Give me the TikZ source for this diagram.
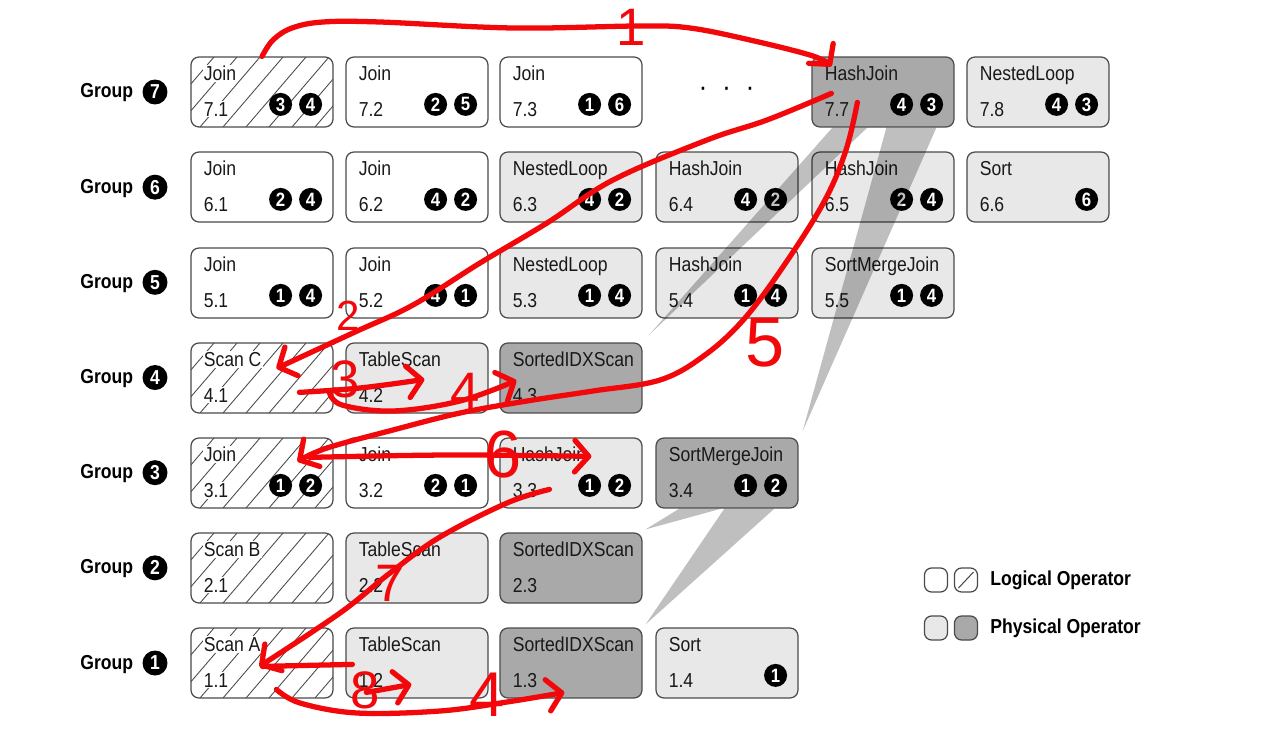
\documentclass[tikz,border=0pt]{standalone}
\usepackage{fontspec}
\setmainfont{Liberation Sans}[FakeStretch=0.87]
\newfontfamily\handfont{Liberation Sans}
\usetikzlibrary{arrows.meta}

\definecolor{opLight}{HTML}{E8E8E8}
\definecolor{opDark}{HTML}{A9A9A9}
\definecolor{opEdge}{HTML}{4A4A4A}
\definecolor{pen}{HTML}{F2080A}

\tikzset{
	op/.style={draw=opEdge, line width=0.7pt, rounded corners=4.5pt,
		minimum width=2.84cm, minimum height=1.4cm, inner sep=0pt},
	logical/.style={op, fill=white},
	hatched/.style={op, fill=white, path picture={
			\foreach \k in {0,...,9}
				\draw[opEdge, line width=0.5pt]
				([shift={(\k*23-60,0)}]path picture bounding box.south west) -- ++(60,-70);}},
	physical/.style={op, fill=opLight},
	chosen/.style={op, fill=opDark},
	optext/.style={anchor=base west, inner sep=0.6pt, text=black!90,
		font=\fontsize{11.5}{12}\selectfont},
	badge/.style={circle, fill=black, text=white, inner sep=0pt, minimum size=0.46cm,
		font=\bfseries\fontsize{11}{11}\selectfont},
	grouplabel/.style={anchor=base west, inner sep=0pt, font=\bfseries\fontsize{11.5}{12}\selectfont},
	groupbadge/.style={circle, fill=black, text=white, inner sep=0pt, minimum size=0.5cm,
		font=\bfseries\fontsize{11.5}{11.5}\selectfont},
	legendbox/.style={draw=opEdge, line width=0.7pt, rounded corners=4pt,
		minimum width=0.46cm, minimum height=0.48cm, inner sep=0pt},
	legendtext/.style={anchor=west, inner sep=0pt, font=\bfseries\fontsize{11.5}{12}\selectfont},
	beam/.style={fill=black, opacity=0.25},
	hand/.style={draw=pen, line width=3pt, line cap=round, line join=round},
	handtip/.style={-{Straight Barb[length=8pt,width=18pt,round]}},
	handnum/.style={text=pen, inner sep=0pt, font=\handfont\fontsize{30}{30}\selectfont},
}

% box with operator name and id
\newcommand{\opbox}[6][]{%
	\node[#3] (#2) at #4 {};
	\node[optext,#1] (#2-name) at ([shift={(12,24)}]#2.north west) {#5};
	\node[optext,#1] (#2-id) at ([shift={(12,60)}]#2.north west) {#6};
}

\begin{document}
\begin{tikzpicture}[x=0.02cm,y=-0.02cm]
	\fill[white] (0,0) rectangle (1286,750);
	\useasboundingbox (0,0) rectangle (1286,750);

	% group 7
	\opbox[fill=white]{b71}{hatched}{(262,92)}{Join}{7.1}
	\opbox{b72}{logical}{(417,92)}{Join}{7.2}
	\opbox{b73}{logical}{(571,92)}{Join}{7.3}
	\node[font=\bfseries\fontsize{11.5}{12}\selectfont] (dots) at (727,91) {·\hspace{10pt}·\hspace{10pt}·};
	\opbox{b77}{chosen}{(883,92)}{HashJoin}{7.7}
	\opbox{b78}{physical}{(1038,92)}{NestedLoop}{7.8}
	% group 6
	\opbox{b61}{logical}{(262,187)}{Join}{6.1}
	\opbox{b62}{logical}{(417,187)}{Join}{6.2}
	\opbox{b63}{physical}{(571,187)}{NestedLoop}{6.3}
	\opbox{b64}{physical}{(727,187)}{HashJoin}{6.4}
	\opbox{b65}{physical}{(883,187)}{HashJoin}{6.5}
	\opbox{b66}{physical}{(1038,187)}{Sort}{6.6}
	% group 5
	\opbox{b51}{logical}{(262,283)}{Join}{5.1}
	\opbox{b52}{logical}{(417,283)}{Join}{5.2}
	\opbox{b53}{physical}{(571,283)}{NestedLoop}{5.3}
	\opbox{b54}{physical}{(727,283)}{HashJoin}{5.4}
	\opbox{b55}{physical}{(883,283)}{SortMergeJoin}{5.5}
	% group 4
	\opbox[fill=white]{b41}{hatched}{(262,378)}{Scan C}{4.1}
	\opbox{b42}{physical}{(417,378)}{TableScan}{4.2}
	\opbox{b43}{chosen}{(571,378)}{SortedIDXScan}{4.3}
	% group 3
	\opbox[fill=white]{b31}{hatched}{(262,473)}{Join}{3.1}
	\opbox{b32}{logical}{(417,473)}{Join}{3.2}
	\opbox{b33}{physical}{(571,473)}{HashJoin}{3.3}
	\opbox{b34}{chosen}{(727,473)}{SortMergeJoin}{3.4}
	% group 2
	\opbox[fill=white]{b21}{hatched}{(262,568)}{Scan B}{2.1}
	\opbox{b22}{physical}{(417,568)}{TableScan}{2.2}
	\opbox{b23}{chosen}{(571,568)}{SortedIDXScan}{2.3}
	% group 1
	\opbox[fill=white]{b11}{hatched}{(262,663)}{Scan A}{1.1}
	\opbox{b12}{physical}{(417,663)}{TableScan}{1.2}
	\opbox{b13}{chosen}{(571,663)}{SortedIDXScan}{1.3}
	\opbox{b14}{physical}{(727,663)}{Sort}{1.4}

	% child groups
	\foreach \n/\a/\b in {b71/3/4, b72/2/5, b73/1/6, b77/4/3, b78/4/3,
		b61/2/4, b62/4/2, b63/4/2, b64/4/2, b65/2/4,
		b51/1/4, b52/4/1, b53/1/4, b54/1/4, b55/1/4,
		b31/1/2, b32/2/1, b33/1/2, b34/1/2}{
		\node[badge] (\n-a) at ([shift={(-53,48)}]\n.north east) {\a};
		\node[badge] (\n-b) at ([shift={(-23,48)}]\n.north east) {\b};
	}
	\node[badge] (b66-b) at ([shift={(-23,48)}]b66.north east) {6};
	\node[badge] (b14-b) at ([shift={(-23,48)}]b14.north east) {1};

	% grey beams to the chosen inputs
	\fill[beam] ([shift={(21,0)}]b77.south west) -- ([shift={(56,0)}]b77.south west) -- ([shift={(6,-7)}]b43.north east) -- cycle;
	\fill[beam] ([shift={(75,0)}]b77.south west) -- ([shift={(125,0)}]b77.south west) -- ([shift={(4,-6)}]b34.north east) -- cycle;
	\fill[beam] ([shift={(24,0)}]b34.south west) -- ([shift={(66,0)}]b34.south west) -- ([shift={(3,-3)}]b23.north east) -- cycle;
	\fill[beam] ([shift={(69,0)}]b34.south west) -- ([shift={(119,0)}]b34.south west) -- ([shift={(3,-3)}]b13.north east) -- cycle;

	% group labels
	\foreach \g in {1,...,7}{
		\node[grouplabel] (grp\g) at (80,{98+95.17*(7-\g)}) {Group};
		\node[groupbadge] (grp\g-no) at (155,{92+95.17*(7-\g)}) {\g};
	}

	% legend
	\node[legendbox, fill=white] (lgA) at (936,580) {};
	\node[legendbox, fill=white, path picture={
		\draw[opEdge, line width=0.6pt] ([shift={(4,-4)}]path picture bounding box.south west)
			-- ([shift={(-4,4)}]path picture bounding box.north east);}] (lgB) at (966,580) {};
	\node[legendbox, fill=opLight] (lgC) at (936,628) {};
	\node[legendbox, fill=opDark] (lgD) at (966,628) {};
	\node[legendtext] (lgLogical) at (990,580) {Logical Operator};
	\node[legendtext] (lgPhysical) at (990,628) {Physical Operator};

	% red pen notes
	\draw[hand,handtip] plot[smooth,tension=0.6] coordinates {(b71.north) (273,40) (292,28) (323,22)
		(380,22) (513,28) (640,26) (690,28) (750,40) (813,56) ([shift={(20,10)}]b77.north west)};
	\draw[hand,handtip] plot[smooth,tension=0.6] coordinates {([shift={(20,37)}]b77.north west)
		(767,120) (707,140) (613,180) (547,223) (480,263) (413,305) (355,332) ([shift={(86,26)}]b41.north west)};
	\draw[hand,handtip] plot[smooth,tension=0.6] coordinates {([shift={(109,50)}]b41.north west)
		(360,388) ([shift={(79,37)}]b42.north west)};
	\draw[hand,handtip] plot[smooth,tension=0.6] coordinates {([shift={(139,50)}]b41.north west)
		(342,405) (393,411) (460,401) ([shift={(17,38)}]b43.north west)};
	\draw[hand,handtip] plot[smooth,tension=0.6] coordinates {([shift={(46,46)}]b77.north west)
		(846,150) (825,200) (787,261) (745,318) (705,355) (660,380) (593,391) (527,401) (460,413)
		(393,430) (327,448) ([shift={(107,24)}]b31.north west)};
	\draw[hand,handtip] plot[smooth,tension=0.6] coordinates {([shift={(119,20)}]b31.north west)
		(450,455) ([shift={(92,19)}]b33.north west)};
	\draw[hand,handtip] plot[smooth,tension=0.6] coordinates {([shift={(50,52)}]b33.north west)
		(507,503) (440,537) (390,573) (340,613) ([shift={(69,39)}]b11.north west)};
	\draw[hand] ([shift={(72,39)}]b11.north west) -- ([shift={(7,37)}]b12.north west);
	\draw[hand,handtip] ([shift={(21,65)}]b12.north west) -- ([shift={(66,57)}]b12.north west);
	\draw[hand,handtip] plot[smooth,tension=0.6] coordinates {([shift={(86,62)}]b11.north west)
		(300,703) (357,713) (440,711) (507,702) ([shift={(65,65)}]b13.north west)};

	\node[handnum] (n1) at (631,27) {1};
	\node[handnum, font=\handfont\fontsize{24}{24}\selectfont] (n2) at (348,316) {2};
	\node[handnum] (n3) at (345,379) {3};
	\node[handnum] (n4) at (465,391) {4};
	\node[handnum, font=\handfont\fontsize{40}{40}\selectfont] (n5) at (765,343) {5};
	\node[handnum, font=\handfont\fontsize{38}{38}\selectfont] (n6) at (503,455) {6};
	\node[handnum] (n7) at (390,583) {7};
	\node[handnum] (n8) at (365,690) {8};
	\node[handnum, font=\handfont\fontsize{36}{36}\selectfont] (n9) at (487,695) {4};
\end{tikzpicture}
\end{document}
